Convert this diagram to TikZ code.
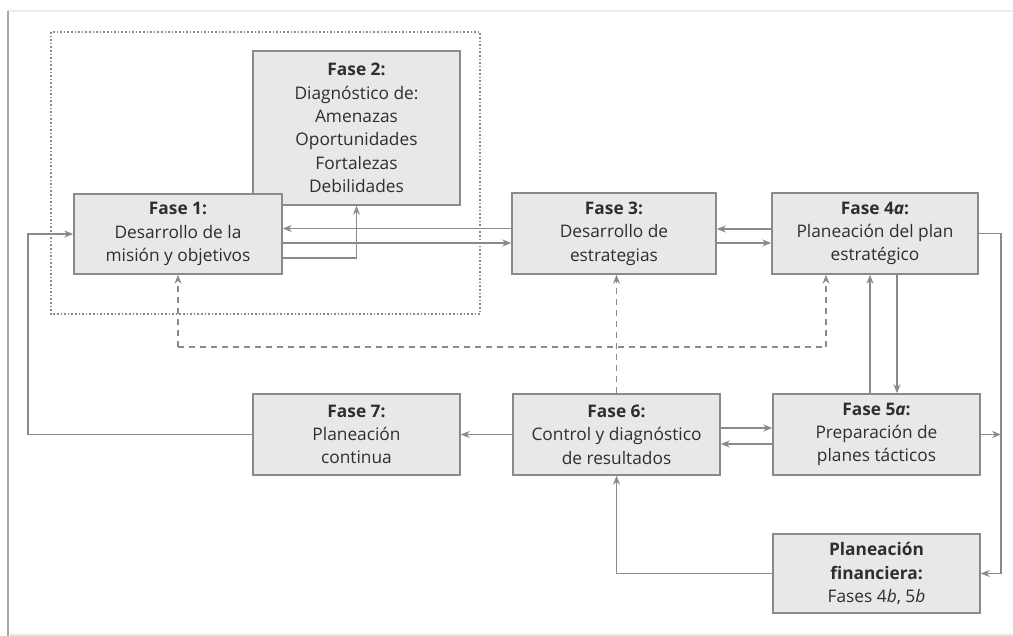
\documentclass[tikz,border=0pt]{standalone}
\usepackage{fontspec}
\setmainfont{Open Sans}
\usetikzlibrary{arrows.meta}
\definecolor{boxfill}{HTML}{E8E8EA}
\definecolor{boxline}{HTML}{8A8A8A}
\definecolor{conn}{HTML}{8A8A8A}
\definecolor{txt}{HTML}{2E2E2E}
\tikzset{
  phase/.style={draw=boxline, fill=boxfill, line width=1.5pt, minimum width=207pt, minimum height=81pt,
    inner sep=0pt, align=center, text=txt, font=\fontsize{17.3}{23.4}\selectfont},
  conline/.style={draw=conn, line width=1.4pt},
  arr/.style={conline, -{Stealth[length=9pt,width=7pt]}},
  darr/.style={arr, dash pattern=on 6pt off 5pt},
  dline/.style={conline, dash pattern=on 6pt off 5pt},
}
\begin{document}
\begin{tikzpicture}[x=1pt,y=-1pt]
\useasboundingbox (0,0) rectangle (1013,636);
% page edge
\draw[gray!15, line width=1.5pt] (8,11) -- (1013,11);
\draw[gray!70, line width=1.6pt] (8,11) -- (8,636);
\draw[gray!20, line width=1.5pt] (10,635) -- (1013,635);
% dotted group
\draw[boxline, line width=1.5pt, dash pattern=on 1.6pt off 2pt] (51,32) rectangle (480,314);
% nodes
\node[phase, minimum height=154pt] (F2) at (356.5,128) {\textbf{Fase 2:}\\Diagnóstico de:\\Amenazas\\Oportunidades\\Fortalezas\\Debilidades};
\node[phase, minimum width=208pt, minimum height=80pt] (F1) at (178,234) {\textbf{Fase 1:}\\Desarrollo de la\\misión y objetivos};
\node[phase, minimum width=204pt] (F3) at (614,233.5) {\textbf{Fase 3:}\\Desarrollo de\\estrategias};
\node[phase, minimum width=206pt] (F4) at (875,233.5) {\textbf{Fase 4\textit{a}:}\\Planeación del plan\\estratégico};
\node[phase] (F7) at (356.5,434.5) {\textbf{Fase 7:}\\Planeación\\continua};
\node[phase] (F6) at (616.5,434.5) {\textbf{Fase 6:}\\Control y diagnóstico\\de resultados};
\node[phase] (F5) at (876.5,434.5) {\textbf{Fase 5\textit{a}:}\\Preparación de\\planes tácticos};
\node[phase, minimum height=79pt] (PF) at (876.5,573.5) {\textbf{Planeación}\\\textbf{financiera:}\\Fases 4\textit{b}, 5\textit{b}};
% coordinates
\coordinate (L) at (28,434.5);
\coordinate (R) at (1001,573.5);
\coordinate (DL) at (178,347);
\coordinate (DR) at (826,347);
% connectors
\draw[arr] ([yshift=5pt]F3.west) -- ([yshift=5pt]F3.west -| F1.east);
\draw[arr] ([yshift=-9pt]F1.east) -- ([yshift=-9pt]F1.east -| F3.west);
\draw[arr] ([yshift=-24pt]F1.east) -| (F2.south);
\draw[arr] (F7.west) -- (L) |- (F1.west);
\draw[arr] ([yshift=4.5pt]F4.west) -- ([yshift=4.5pt]F4.west -| F3.east);
\draw[arr] ([yshift=-9.5pt]F3.east) -- ([yshift=-9.5pt]F3.east -| F4.west);
\draw[arr] (F4.east) -| (R) -- (PF.east);
\draw[arr] (F5.east) -- (F5.east -| R);
\draw[arr] ([xshift=20.5pt]F5.north |- F4.south) -- ([xshift=20.5pt]F5.north);
\draw[arr] ([xshift=-6.5pt]F5.north) -- ([xshift=-6.5pt]F5.north |- F4.south);
\draw[arr] ([yshift=6.5pt]F6.east) -- ([yshift=6.5pt]F6.east -| F5.west);
\draw[arr] ([yshift=-9.5pt]F5.west) -- ([yshift=-9.5pt]F5.west -| F6.east);
\draw[arr] (F6.west) -- (F7.east);
\draw[arr] (PF.west) -| (F6.south);
% dashed feedback
\draw[darr] (F6.north) -- (F6.north |- F3.south);
\draw[dline] (DL) -- (DR);
\draw[darr] (DL) -- (F1.south);
\draw[darr] (DR) -- (DR |- F4.south);
\end{tikzpicture}
\end{document}
